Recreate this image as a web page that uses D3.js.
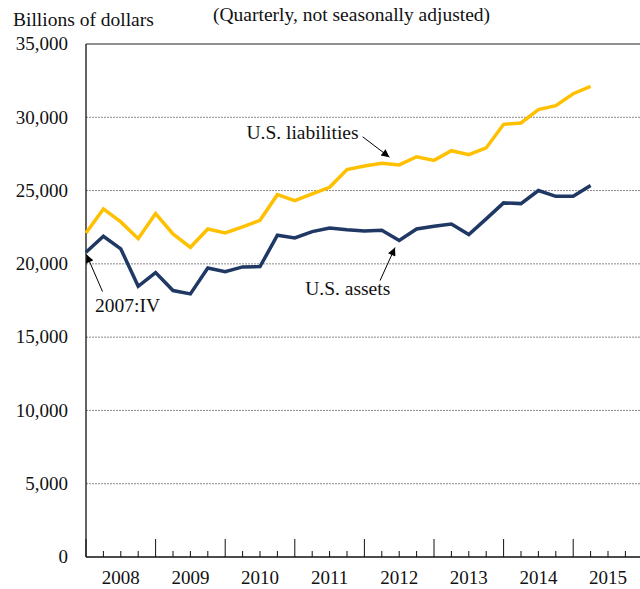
<!DOCTYPE html>
<html>
<head>
<meta charset="utf-8">
<script src="https://cdn.jsdelivr.net/npm/d3@7"></script>
<style>
  body { margin: 0; background: #fff; }
  svg text { font-family: "Liberation Serif", "Times New Roman", serif; fill: #111; }
</style>
</head>
<body>
<div id="chart-area"></div>
<script>

// Data: quarterly positions, billions of dollars, 2007:IV .. 2015:I
var quarters = ["2007:IV",
  "2008:I", "2008:II", "2008:III", "2008:IV",
  "2009:I", "2009:II", "2009:III", "2009:IV",
  "2010:I", "2010:II", "2010:III", "2010:IV",
  "2011:I", "2011:II", "2011:III", "2011:IV",
  "2012:I", "2012:II", "2012:III", "2012:IV",
  "2013:I", "2013:II", "2013:III", "2013:IV",
  "2014:I", "2014:II", "2014:III", "2014:IV",
  "2015:I"];

var liabilities = [22110, 23750, 22860, 21720, 23430, 22040, 21130, 22380, 22110, 22520,
  22970, 24720, 24310, 24770, 25220, 26430, 26680, 26860, 26750, 27310,
  27060, 27720, 27450, 27910, 29520, 29610, 30520, 30790, 31610, 32110];

var assets = [20790, 21880, 21020, 18470, 19400, 18180, 17950, 19720, 19470, 19790,
  19810, 21950, 21770, 22200, 22450, 22320, 22240, 22290, 21590, 22380,
  22560, 22720, 22000, 23070, 24160, 24110, 25000, 24610, 24610, 25340];

var years = [2008, 2009, 2010, 2011, 2012, 2013, 2014, 2015];
var yTicks = [0, 5000, 10000, 15000, 20000, 25000, 30000, 35000];

// SVG drawing area
var W = 640, H = 589;
var margin = {top: 44, left: 86, bottom: 32};

var svg = d3.select("#chart-area").append("svg")
    .attr("width", W)
    .attr("height", H);

// Scales (x in quarter steps; 0 = 2007:IV, placed at start of 2008)
var qw = 17.4;
var x = d3.scaleLinear()
    .domain([0, years.length * 4])
    .range([margin.left, margin.left + years.length * 4 * qw]);

var y = d3.scaleLinear()
    .domain([0, 35000])
    .range([H - margin.bottom, margin.top]);

var xRight = x.range()[1];

// gridlines
svg.append("g")
    .selectAll("line")
    .data(yTicks.filter(d => d > 0 && d < 35000))
    .join("line")
    .attr("x1", margin.left).attr("x2", xRight)
    .attr("y1", d => y(d)).attr("y2", d => y(d))
    .attr("stroke", "#8a8a8a")
    .attr("stroke-width", 1)
    .attr("stroke-dasharray", "2,1");

// frame: top, left, bottom
svg.append("line")
    .attr("x1", margin.left).attr("x2", xRight)
    .attr("y1", y(35000)).attr("y2", y(35000))
    .attr("stroke", "#222").attr("stroke-width", 1);
svg.append("line")
    .attr("x1", margin.left).attr("x2", margin.left)
    .attr("y1", y(35000)).attr("y2", y(0))
    .attr("stroke", "#111").attr("stroke-width", 1.3);
svg.append("line")
    .attr("x1", margin.left).attr("x2", xRight)
    .attr("y1", y(0)).attr("y2", y(0))
    .attr("stroke", "#111").attr("stroke-width", 1.3);

// y labels
svg.append("g")
    .selectAll("text")
    .data(yTicks)
    .join("text")
    .attr("x", 68)
    .attr("y", d => y(d))
    .attr("dy", "0.33em")
    .attr("text-anchor", "end")
    .style("font-size", "19px")
    .text(d => d3.format(",")(d));

// x ticks (quarters), pointing up into the plot
var qTicks = d3.range(0, years.length * 4 + 1);
svg.append("g")
    .selectAll("line")
    .data(qTicks)
    .join("line")
    .attr("x1", d => x(d)).attr("x2", d => x(d))
    .attr("y1", y(0))
    .attr("y2", d => y(0) - (d % 4 === 0 ? 18 : 6))
    .attr("stroke", "#111")
    .attr("stroke-width", 1);

// year labels
svg.append("g")
    .selectAll("text")
    .data(years)
    .join("text")
    .attr("x", (d, i) => x(i * 4 + 2))
    .attr("y", 584)
    .attr("text-anchor", "middle")
    .style("font-size", "19px")
    .text(d => d);

// titles
svg.append("text")
    .attr("x", 13).attr("y", 26)
    .style("font-size", "19.5px")
    .text("Billions of dollars");

svg.append("text")
    .attr("x", 213).attr("y", 21)
    .style("font-size", "19.5px")
    .text("(Quarterly, not seasonally adjusted)");

// lines
var line = d3.line()
    .x((d, i) => x(i))
    .y(d => y(d));

svg.append("path")
    .datum(liabilities)
    .attr("fill", "none")
    .attr("stroke", "#FFC000")
    .attr("stroke-width", 3.5)
    .attr("stroke-linejoin", "miter")
    .attr("d", line);

svg.append("path")
    .datum(assets)
    .attr("fill", "none")
    .attr("stroke", "#1F3864")
    .attr("stroke-width", 3.5)
    .attr("stroke-linejoin", "miter")
    .attr("d", line);

// annotations (in data space)
svg.append("defs").append("marker")
    .attr("id", "arrow")
    .attr("viewBox", "0 0 10 10")
    .attr("refX", 10).attr("refY", 5)
    .attr("markerWidth", 10).attr("markerHeight", 8)
    .attr("markerUnits", "userSpaceOnUse")
    .attr("orient", "auto")
    .append("path")
    .attr("d", "M0,0 L10,5 L0,10 Z")
    .attr("fill", "#000");

var notes = [
  {text: "U.S. liabilities", tx: 9.22, ty: 28540, x1: 15.9, y1: 28670, x2: 17.44, y2: 27280},
  {text: "U.S. assets", tx: 12.6, ty: 17900, x1: 16.9, y1: 18860, x2: 17.76, y2: 21110},
  {text: "2007:IV", tx: 0.52, ty: 16710, x1: 0.95, y1: 18110, x2: 0.03, y2: 20630}
];

svg.append("g")
    .selectAll("text")
    .data(notes)
    .join("text")
    .attr("x", d => x(d.tx))
    .attr("y", d => y(d.ty))
    .style("font-size", "19.5px")
    .text(d => d.text);

svg.append("g")
    .selectAll("line")
    .data(notes)
    .join("line")
    .attr("x1", d => x(d.x1)).attr("y1", d => y(d.y1))
    .attr("x2", d => x(d.x2)).attr("y2", d => y(d.y2))
    .attr("stroke", "#000")
    .attr("stroke-width", 1)
    .attr("marker-end", "url(#arrow)");

</script>
</body>
</html>
